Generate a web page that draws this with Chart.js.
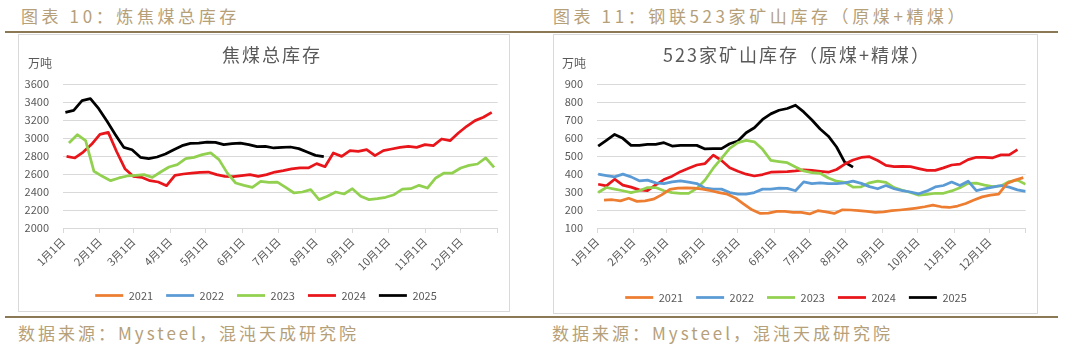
<!DOCTYPE html>
<html>
<head>
<meta charset="utf-8">
<script src="https://cdn.jsdelivr.net/npm/chart.js@4.4.1/dist/chart.umd.min.js"></script>
<style>
  body { margin: 0; width: 1080px; height: 349px; background: #fff; position: relative; overflow: hidden;
         font-family: "Noto Sans CJK SC", sans-serif; }
  .cap { position: absolute; top: 6px; line-height: 20px; font-size: 17px; letter-spacing: 3.6px; color: #b5a07a; white-space: nowrap; }
  .src { position: absolute; top: 323px; line-height: 20px; font-size: 17px; letter-spacing: 3px; color: #b5a07a; white-space: nowrap; }
  .rule { position: absolute; left: 5px; width: 1053px; height: 2px; background: #8b7955; }
  .box { position: absolute; border: 1px solid #d9d9d9; }
  .box canvas { position: absolute; left: 0; top: 0; }
</style>
</head>
<body>
<div class="cap" style="left:21px">图表 10：炼焦煤总库存</div>
<div class="cap" style="left:553px">图表 11：钢联523家矿山库存（原煤+精煤）</div>
<div class="rule" style="top:31px"></div>
<div class="box" style="left:18px;top:34px;width:490px;height:276px"><canvas id="cokeChart" width="490" height="276"></canvas></div>
<div class="box" style="left:553px;top:34px;width:483px;height:278px"><canvas id="mineChart" width="483" height="278"></canvas></div>
<div class="rule" style="top:316px"></div>
<div class="src" style="left:18px">数据来源：Mysteel，混沌天成研究院</div>
<div class="src" style="left:552px">数据来源：Mysteel，混沌天成研究院</div>

<script>
const years = ["2021", "2022", "2023", "2024", "2025"];
const colors = ["#ED7D31", "#5B9BD5", "#92D050", "#E8161B", "#000000"];

// x axis: day of year, one tick per month
const monthDays = [0, 31, 59, 90, 120, 151, 181, 212, 243, 273, 304, 334, 365];
const monthLabels = ["1月1日", "2月1日", "3月1日", "4月1日", "5月1日", "6月1日",
                     "7月1日", "8月1日", "9月1日", "10月1日", "11月1日", "12月1日"];

/* 焦煤总库存 (weekly, 万吨) */
const cokeStart = [0, 0, 5, 3, 2];   // day of first weekly reading
const coke2021 = [];
const coke2022 = [];
const coke2023 = [2944, 3037, 2970, 2630, 2574, 2526, 2556, 2578, 2585, 2593, 2563, 2622, 2678, 2704, 2770, 2785,
                  2815, 2835, 2760, 2610, 2500, 2474, 2452, 2518, 2507, 2510, 2452, 2389, 2400, 2426, 2315, 2352,
                  2400, 2378, 2437, 2352, 2315, 2326, 2341, 2370, 2433, 2437, 2474, 2444, 2556, 2611, 2611, 2667,
                  2696, 2711, 2778, 2674];
const coke2024 = [2796, 2778, 2844, 2930, 3040, 3063, 2850, 2659, 2574, 2563, 2526, 2511, 2470, 2585, 2600, 2611,
                  2619, 2622, 2593, 2574, 2570, 2581, 2593, 2574, 2593, 2622, 2637, 2656, 2667, 2667, 2715, 2681,
                  2833, 2796, 2859, 2852, 2870, 2804, 2859, 2878, 2896, 2907, 2896, 2926, 2915, 2989, 2970, 3056,
                  3130, 3193, 3230, 3285];
const coke2025 = [3285, 3307, 3415, 3437, 3326, 3185, 3037, 2896, 2870, 2785, 2770, 2789, 2822, 2870, 2915, 2940,
                  2944, 2955, 2952, 2926, 2937, 2944, 2926, 2904, 2907, 2889, 2896, 2900, 2882, 2844, 2807, 2793];

/* 523家矿山库存 (weekly, 万吨) */
const mineStart = [6, 1, 1, 1, 1];
const mine2021 = [255, 257, 251, 265, 248, 251, 260, 284, 314, 321, 323, 321, 316, 307, 297, 288,
                  266, 233, 201, 181, 183, 192, 192, 187, 187, 178, 196, 190, 181, 201, 200, 196,
                  192, 187, 190, 196, 200, 205, 211, 218, 227, 218, 214, 222, 236, 255, 273, 283,
                  288, 347, 366, 380];
const mine2022 = [399, 391, 384, 399, 384, 362, 366, 351, 347, 356, 362, 355, 347, 321, 316, 316,
                  297, 288, 288, 297, 316, 316, 321, 320, 307, 356, 347, 351, 347, 347, 351, 360,
                  348, 330, 318, 336, 318, 308, 300, 290, 306, 328, 336, 355, 336, 360, 308, 318,
                  327, 336, 327, 312, 303];
const mine2023 = [297, 325, 316, 307, 297, 307, 325, 325, 307, 297, 292, 292, 320, 367, 432, 487,
                  542, 574, 587, 579, 537, 476, 469, 463, 439, 417, 408, 404, 378, 360, 354, 327,
                  329, 351, 360, 354, 324, 310, 297, 282, 287, 293, 293, 306, 324, 348, 349, 338,
                  330, 334, 358, 366, 343];
const mine2024 = [343, 334, 371, 338, 327, 312, 308, 340, 369, 388, 413, 432, 450, 458, 505, 475,
                  435, 415, 399, 389, 397, 410, 412, 413, 417, 423, 420, 415, 410, 425, 455, 478,
                  492, 496, 475, 448, 441, 443, 441, 430, 420, 420, 434, 450, 455, 480, 493, 493,
                  490, 506, 506, 535];
const mine2025 = [555, 587, 620, 598, 559, 559, 565, 565, 574, 555, 559, 559, 559, 539, 541, 541,
                  568, 583, 629, 657, 703, 734, 754, 764, 782, 745, 700, 650, 610, 550, 465, 438];

Chart.defaults.font.family = '"Noto Sans CJK SC", "Noto Sans", sans-serif';
Chart.defaults.color = "#595959";

// chart title + unit label, and a small nudge of the legend row
const overlayText = {
  id: "overlayText",
  afterLayout(chart, args, opts) {
    if (chart.legend) chart.legend.left += opts.legendShift;
  },
  afterDraw(chart, args, opts) {
    const ctx = chart.ctx;
    ctx.save();
    ctx.fillStyle = "#595959";
    ctx.textBaseline = "middle";
    ctx.font = '18px "Noto Sans CJK SC"';
    ctx.letterSpacing = "2px";
    ctx.textAlign = "center";
    ctx.fillText(opts.title, opts.titleX, opts.titleY);
    ctx.letterSpacing = "0px";
    ctx.font = '12px "Noto Sans CJK SC"';
    ctx.textAlign = "left";
    ctx.fillText(opts.unit, opts.unitX, opts.unitY);
    ctx.restore();
  }
};

function weekly(values, start) {
  return values.map((v, i) => ({ x: start + 7 * i, y: v }));
}

function drawChart(id, series, starts, yMin, yMax, yStep, cfg) {
  return new Chart(document.getElementById(id), {
    type: "line",
    data: {
      datasets: series.map((s, k) => ({
        label: years[k],
        data: weekly(s, starts[k]),
        borderColor: colors[k],
        backgroundColor: colors[k],
        borderWidth: 2.75,
        pointRadius: 0,
        tension: 0,
        borderJoinStyle: "round",
        fill: false
      }))
    },
    plugins: [overlayText],
    options: {
      responsive: false,
      animation: false,
      layout: { padding: { top: cfg.top, left: 0, right: cfg.right, bottom: 0 } },
      plugins: {
        overlayText: cfg.text,
        tooltip: { enabled: false },
        legend: {
          position: "bottom",
          labels: {
            usePointStyle: true,
            pointStyle: "line",
            pointStyleWidth: 28,
            padding: 13,
            color: "#595959",
            font: { size: 11 }
          }
        }
      },
      scales: {
        x: {
          type: "linear",
          min: 0,
          max: 365,
          afterBuildTicks: scale => { scale.ticks = monthDays.map(v => ({ value: v })); },
          afterFit: scale => { scale.height = cfg.xHeight; },
          ticks: {
            autoSkip: false,
            minRotation: 45,
            maxRotation: 45,
            padding: 2,
            color: "#595959",
            font: { size: 11 },
            callback: (v, i) => monthLabels[i] || ""
          },
          grid: { drawOnChartArea: false, drawTicks: true, tickLength: 5, color: "#d9d9d9" },
          border: { color: "#d9d9d9" }
        },
        y: {
          min: yMin,
          max: yMax,
          afterFit: scale => { scale.width = cfg.yWidth; },
          ticks: { stepSize: yStep, padding: 14, color: "#595959", font: { size: 11 },
                   callback: v => String(v) },
          grid: { color: "#d9d9d9", drawTicks: false },
          border: { display: false }
        }
      }
    }
  });
}

drawChart("cokeChart", [coke2021, coke2022, coke2023, coke2024, coke2025], cokeStart, 2000, 3600, 200, {
  top: 49, right: 9, yWidth: 44, xHeight: 49,
  text: { title: "焦煤总库存", titleX: 253, titleY: 20, unit: "万吨", unitX: 9, unitY: 28, legendShift: 13 }
});

drawChart("mineChart", [mine2021, mine2022, mine2023, mine2024, mine2025], mineStart, 100, 900, 100, {
  top: 49, right: 10, yWidth: 43, xHeight: 51,
  text: { title: "523家矿山库存（原煤+精煤）", titleX: 243, titleY: 20, unit: "万吨", unitX: 8, unitY: 28, legendShift: 11 }
});
</script>
</body>
</html>
